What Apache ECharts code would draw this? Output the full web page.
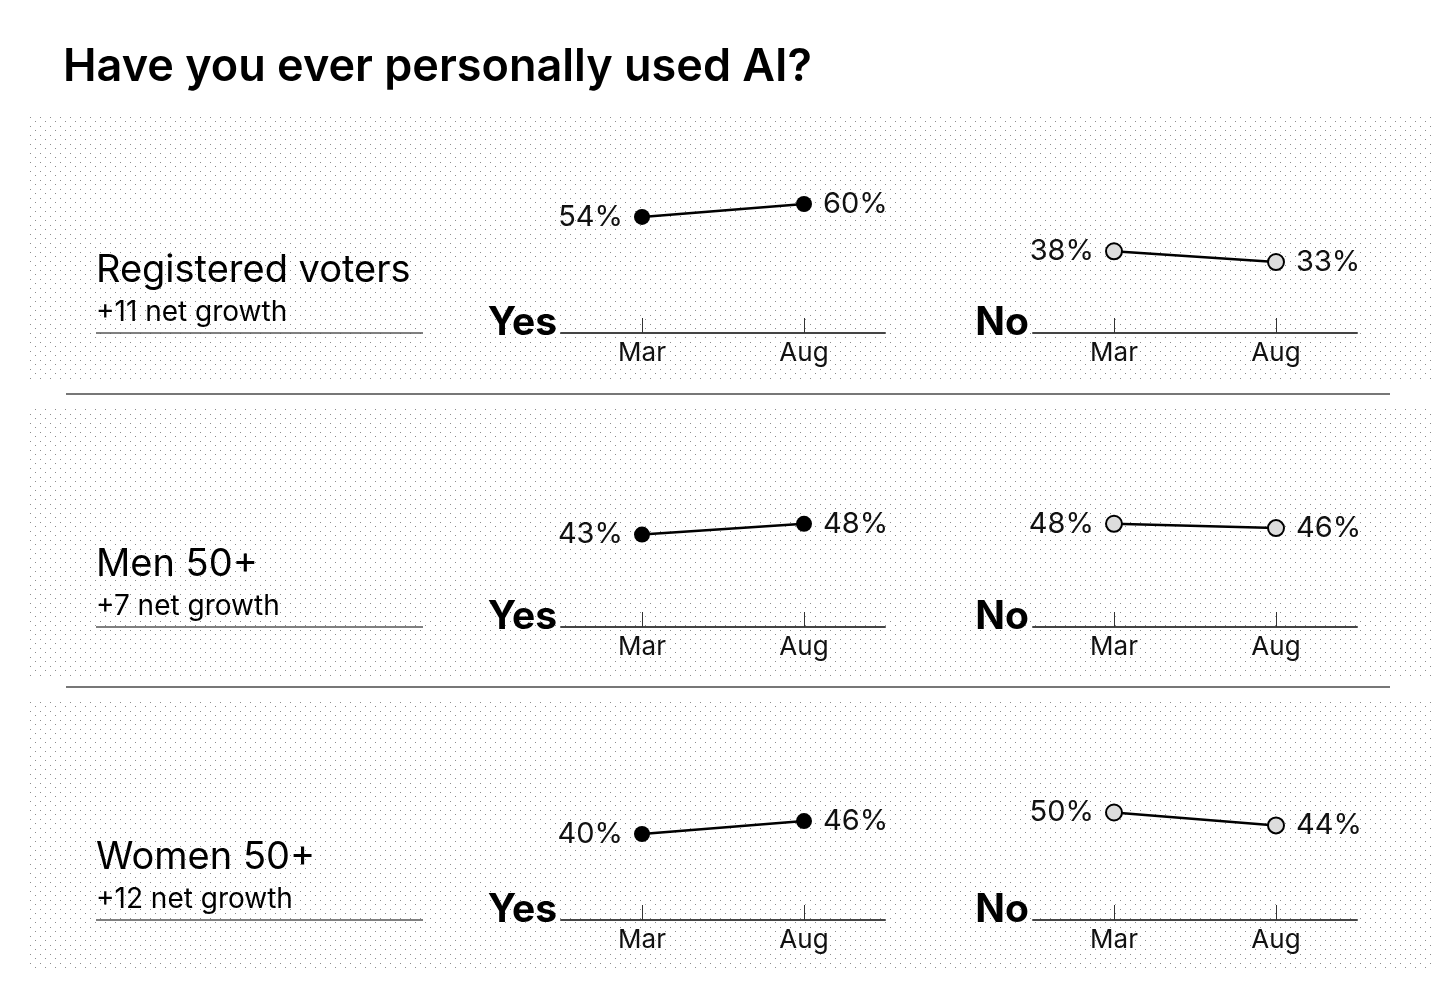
<!DOCTYPE html>
<html><head><meta charset="utf-8">
<script src="https://cdn.jsdelivr.net/npm/echarts@6/dist/echarts.min.js"></script>
<style>html,body{margin:0;padding:0;background:#fff}#c{width:1456px;height:991px}</style>
</head><body><div id="c"></div>
<script>
const chartTitle = 'Have you ever personally used AI?';
const groups = ['Registered voters', 'Men 50+', 'Women 50+'];
const growth = ['+11 net growth', '+7 net growth', '+12 net growth'];
const months = ['Mar', 'Aug'];
const answers = ['Yes', 'No'];
const yesValues = [[54, 60], [43, 48], [40, 46]];
const noValues = [[38, 33], [48, 46], [50, 44]];

const FONT = 'Inter';
const rowAxisY = [333, 627, 920];
const panelLeft = [561, 1033];
const panelW = 324;
const pxPerPct = 2.15;
const gridH = 100 * pxPerPct;

// dotted pattern
const pc = document.createElement('canvas');
pc.width = 10; pc.height = 9;
const pctx = pc.getContext('2d');
pctx.fillStyle = 'rgba(0,0,0,0.45)';
pctx.fillRect(0, 0, 1, 1);
pctx.fillRect(5, 4, 1, 1);

const chart = echarts.init(document.getElementById('c'), null, {renderer: 'canvas'});

const grids = [], xAxes = [], yAxes = [], series = [], graphics = [];

graphics.push({type: 'text', left: 63, top: 45, z: 10,
  style: {text: chartTitle, font: '600 45px ' + FONT, fill: '#000'}});

rowAxisY.forEach((ay, r) => {
  graphics.push({type: 'rect', z: -10, silent: true, shape: {x: 26, y: ay - 218, width: 1405, height: 267},
    style: {fill: {image: pc, repeat: 'repeat'}}});
  if (r > 0) {
    graphics.push({type: 'line', z: 5, shape: {x1: 66, y1: ay - 233, x2: 1390, y2: ay - 233},
      style: {stroke: '#777', lineWidth: 2}});
  }
  graphics.push({type: 'text', z: 10, x: 96, y: ay - 62,
    style: {text: groups[r], font: '400 38px ' + FONT, fill: '#000', textVerticalAlign: 'middle'}});
  graphics.push({type: 'text', z: 10, x: 96, y: ay - 20,
    style: {text: growth[r], font: '400 28px ' + FONT, fill: '#000', textVerticalAlign: 'middle'}});
  graphics.push({type: 'line', z: 5, shape: {x1: 96, y1: ay, x2: 423, y2: ay},
    style: {stroke: '#555', lineWidth: 1.5}});

  [yesValues[r], noValues[r]].forEach((vals, p) => {
    const gi = grids.length;
    grids.push({left: panelLeft[p], top: ay - gridH, width: panelW, height: gridH});
    xAxes.push({type: 'category', gridIndex: gi, data: months, boundaryGap: true,
      axisLine: {show: true, lineStyle: {color: '#444', width: 2}},
      axisTick: {show: true, interval: 0, inside: true, alignWithLabel: true, length: 15,
        lineStyle: {color: '#333', width: 1}},
      axisLabel: {color: '#111', fontSize: 26, fontFamily: FONT, margin: 7}});
    yAxes.push({type: 'value', gridIndex: gi, min: 0, max: 100, show: false});
    const isYes = p === 0;
    series.push({
      type: 'line', xAxisIndex: gi, yAxisIndex: gi,
      data: vals.map((v, i) => ({value: v, label: {position: i === 0 ? 'left' : 'right'}})),
      symbol: 'circle', symbolSize: 16,
      lineStyle: {color: '#000', width: 2.5},
      itemStyle: isYes ? {color: '#000'} : {color: '#ddd', borderColor: '#000', borderWidth: 2},
      label: {show: true, formatter: '{c}%', fontSize: 29, fontFamily: FONT, color: '#111', distance: 11},
      silent: true, animation: false, z: 5
    });
    graphics.push({type: 'text', z: 10, x: panelLeft[p] - 4, y: ay + 10,
      style: {text: answers[p], font: '700 39px ' + FONT, fill: '#000', textAlign: 'right', textVerticalAlign: 'bottom'}});
  });
});

chart.setOption({
  backgroundColor: '#fff',
  animation: false,
  grid: grids, xAxis: xAxes, yAxis: yAxes, series: series,
  graphic: graphics
});
</script></body></html>
